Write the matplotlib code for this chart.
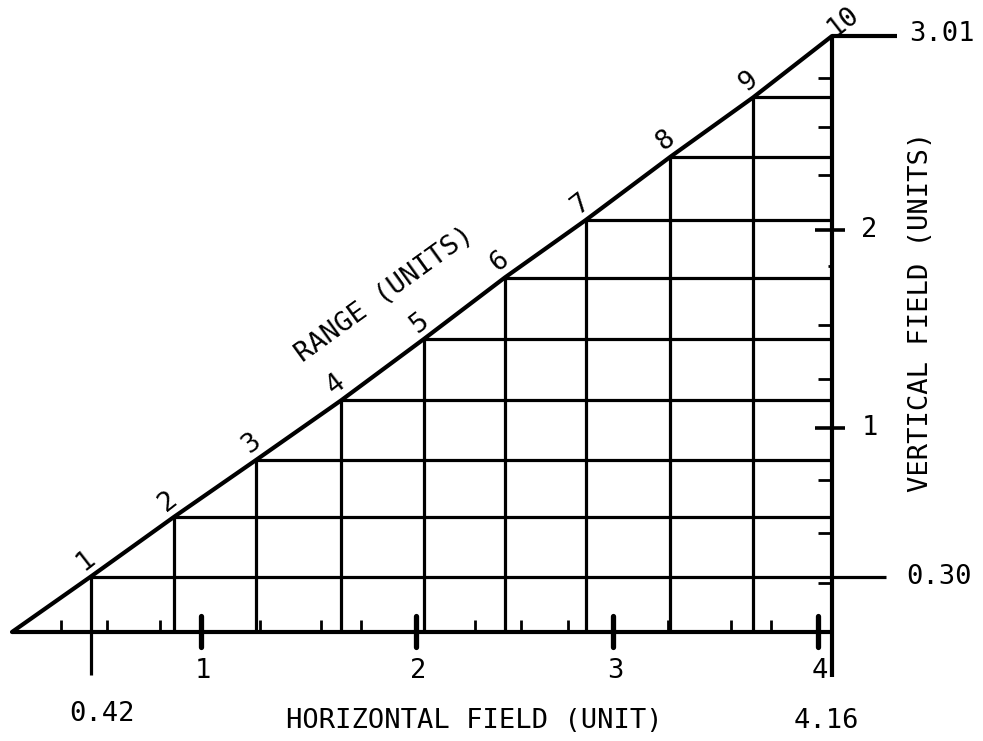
import numpy as np
import matplotlib
matplotlib.use("Agg")
import matplotlib.pyplot as plt

# ---------------- data ----------------
range_labels = ["1", "2", "3", "4", "5", "6", "7", "8", "9", "10"]
# horizontal-field and vertical-field coordinates of each range mark
h_field = [0.40, 0.82, 1.24, 1.67, 2.09, 2.50, 2.91, 3.34, 3.76, 4.16]
v_field = [0.28, 0.58, 0.87, 1.17, 1.48, 1.79, 2.08, 2.40, 2.70, 3.01]

x_major_pos = [0.96, 2.05, 3.05, 4.09]
x_major_labels = ["1", "2", "3", "4"]
x_minor_pos = [0.25, 0.48, 0.75, 1.26, 1.57, 1.77, 2.35, 2.58, 2.82, 3.33, 3.65, 3.85]

y_major_pos = [1.03, 2.03]
y_major_labels = ["1", "2"]
y_minor_pos = [0.25, 0.50, 0.77, 1.28, 1.55, 2.31, 2.55, 2.80]
y_faint_pos = [1.85]

h_first_label = "0.42"
h_last_label = "4.16"
v_first_label = "0.30"
v_last_label = "3.01"

# ---------------- figure ----------------
plt.rcParams['font.family'] = ['DejaVu Sans Mono', 'DejaVu Sans']
FS = 19.5
fig = plt.figure(figsize=(9.83, 7.41), dpi=100)
ax = fig.add_axes([0, 0, 1, 1])
ax.set_xlim(-12 / 197.12, (983 - 12) / 197.12)
ax.set_ylim((632 - 741) / 198.0, 632 / 198.0)
ax.axis('off')

K = 'black'
LW_MAIN = 3.0
LW_GRID = 2.3

xr = h_field[-1]
yt = v_field[-1]

# hypotenuse (range line) through the range marks
ax.plot([0] + h_field, [0] + v_field, color=K, lw=LW_MAIN, solid_capstyle='round')
# base line
ax.plot([0, xr + 0.01], [0, 0], color=K, lw=LW_MAIN, solid_capstyle='butt')
# right edge, extended below the base
ax.plot([xr, xr], [-0.227, yt], color=K, lw=LW_MAIN, solid_capstyle='butt')
# top extension for 3.01
ax.plot([xr, 4.49], [yt, yt], color=K, lw=LW_MAIN, solid_capstyle='butt')

# grid lines from each range mark
for i in range(len(h_field) - 1):
    x, y = h_field[i], v_field[i]
    ybot = -0.217 if i == 0 else 0
    xend = 4.434 if i == 0 else xr
    ax.plot([x, x], [ybot, y], color=K, lw=LW_GRID, solid_capstyle='butt')
    ax.plot([x, xend], [y, y], color=K, lw=LW_GRID, solid_capstyle='butt')

# bottom ticks
ax.vlines(x_minor_pos, 0, 0.06, color=K, lw=2.0)
ax.vlines(x_major_pos, -0.075, 0.08, color=K, lw=3.8, capstyle='round')
for p, lab in zip(x_major_pos, x_major_labels):
    ax.text(p + 0.01, -0.195, lab, fontsize=FS, ha='center', va='center')

# right ticks
ax.hlines(y_minor_pos, xr - 0.07, xr, color=K, lw=2.0)
ax.hlines(y_faint_pos, xr - 0.02, xr, color=K, lw=2.0)
ax.hlines(y_major_pos, xr - 0.085, xr + 0.065, color=K, lw=2.6)
for p, lab in zip(y_major_pos, y_major_labels):
    ax.text(4.35, p, lab, fontsize=FS, ha='center', va='center')

# range labels along hypotenuse
ang = np.degrees(np.arctan2(yt, xr))
for i, lab in enumerate(range_labels):
    off = (11, 15) if len(lab) > 1 else (-5, 16)
    ax.annotate(lab, (h_field[i], v_field[i]), xytext=off, textcoords='offset pixels',
                fontsize=FS, ha='center', va='center', rotation=ang + 2)

ax.text(1.892, 1.702, "RANGE (UNITS)", fontsize=FS, ha='center', va='center', rotation=ang)

# end-value labels
ax.text(0.457, -0.414, h_first_label, fontsize=FS, ha='center', va='center')
ax.text(4.13, -0.449, h_last_label, fontsize=FS, ha='center', va='center')
ax.text(4.703, 0.278, v_first_label, fontsize=FS, ha='center', va='center')
ax.text(4.718, 3.02, v_last_label, fontsize=FS, ha='center', va='center')

# axis titles
ax.text(2.344, -0.447, "HORIZONTAL FIELD (UNIT)", fontsize=FS, ha='center', va='center')
ax.text(4.611, 1.616, "VERTICAL FIELD (UNITS)", fontsize=FS, ha='center', va='center',
        rotation=90)

fig.savefig("out.png", dpi=100, facecolor='white')
